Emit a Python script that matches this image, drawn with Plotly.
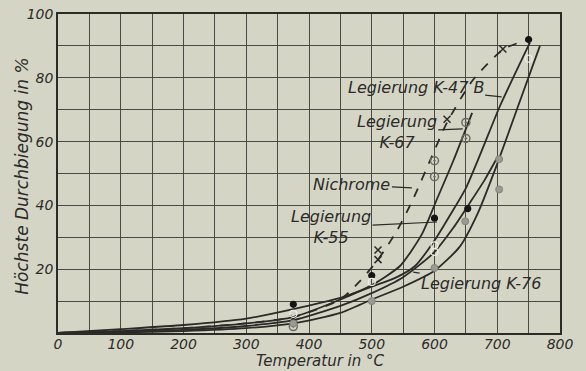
import plotly.graph_objects as go

# ---- data (Temperatur in °C, Durchbiegung in %) ----
# curves
nich_T = [0, 100, 200, 300, 375, 450, 480, 510, 540, 566, 595, 620, 660, 710, 750]
nich_v = [0, 0.6, 1.5, 3, 5, 10.5, 16, 23, 32, 42, 55, 66, 79, 89, 92]

k67_T = [0, 100, 200, 300, 375, 450, 500, 545, 580, 604, 630, 660]
k67_v = [0, 0.6, 1.5, 3, 5, 10.5, 15, 21, 31, 42, 54, 69]

k47_T = [0, 100, 200, 300, 375, 450, 500, 540, 569, 600, 625, 649, 675, 704, 752]
k47_v = [0, 1.2, 2.5, 4.5, 7.5, 11, 14.5, 17.5, 21, 29, 37, 45, 57, 71, 91]

k55_T = [0, 100, 200, 300, 375, 450, 500, 550, 598, 630, 657, 680, 700]
k55_v = [0, 0.4, 1, 2.2, 4, 8.5, 12.5, 17.5, 25, 33, 41, 48, 55]

k76_T = [0, 100, 200, 300, 375, 450, 500, 550, 600, 640, 670, 700, 733, 768]
k76_v = [0, 0.2, 0.6, 1.5, 3, 6.3, 10.5, 14.5, 19.5, 27, 38, 53, 71, 90]

# measured points
x_T = [375, 510, 510, 620, 709]
x_v = [4.5, 26, 23, 67, 89]
dotring_T = [375, 600, 600, 650, 650]
dotring_v = [2, 54, 49, 66, 61]
filled_T = [375, 500, 600, 653, 750]
filled_v = [9, 18, 36, 39, 92]
open_T = [375, 500, 600, 600, 750]
open_v = [6, 16, 27.5, 25.4, 86]
grey_T = [375, 500, 600, 649, 703, 703]
grey_v = [3, 10, 20.4, 35, 45, 54.5]

x_ticks = list(range(0, 801, 50))
x_labels = [str(t) if t % 100 == 0 else "" for t in x_ticks]
y_ticks = list(range(0, 101, 10))
y_labels = [str(t) if (t % 20 == 0 and t > 0) else "" for t in y_ticks]

INK = "#2b2b28"
PAPER = "#d5d5c6"
FONT = "DejaVu Sans"

fig = go.Figure()

def curve(T, v, dash="solid"):
    fig.add_trace(go.Scatter(x=T, y=v, mode="lines",
                             line=dict(color=INK, width=1.8, shape="spline", smoothing=0.6, dash=dash),
                             hoverinfo="skip", showlegend=False))

curve(nich_T, nich_v, dash="dash")
curve(k67_T, k67_v)
curve(k47_T, k47_v)
curve(k55_T, k55_v)
curve(k76_T, k76_v)

def pts(T, v, symbol, color, size, lw=1.2, lc=None):
    fig.add_trace(go.Scatter(x=T, y=v, mode="markers",
                             marker=dict(symbol=symbol, color=color, size=size,
                                         line=dict(color=lc or color, width=lw)),
                             hoverinfo="skip", showlegend=False))

pts(x_T, x_v, "x-thin-open", INK, 7, lw=1.5)
pts(dotring_T, dotring_v, "circle-open-dot", "#6a6a64", 8, lw=1.5)
pts(filled_T, filled_v, "circle", "#151515", 6)
pts(open_T, open_v, "circle-open", "#eeeee6", 7, lw=1.2, lc="#55554f")
pts(grey_T, grey_v, "circle", "#9a9a92", 7, lw=1, lc="#85857d")

lab_font = dict(family=FONT, size=16, color=INK, style="italic")
def label(text, x, y, ax, ay):
    fig.add_annotation(x=x, y=y, xref="x", yref="y", text=text, showarrow=True,
                       arrowhead=0, arrowwidth=1.2, arrowcolor=INK, ax=ax, ay=ay,
                       font=lab_font, align="center", bgcolor="rgba(0,0,0,0)")

label("Legierung K-47 B", 707, 74, -86, -9)
label("Legierung<br>K-67", 645, 64, -66, 3)
label("Nichrome", 564, 45.5, -60, -3)
label("Legierung<br>K-55", 604, 34.8, -106, 5)
label("Legierung K-76", 566, 19.1, 68, 11)

# axis titles placed as annotations for exact spacing
fig.add_annotation(text="Temperatur in °C", xref="paper", yref="paper", x=0.522, y=0,
                   yshift=-28, showarrow=False, yanchor="middle",
                   font=dict(family=FONT, size=15, color=INK, style="italic"))
fig.add_annotation(text="Höchste Durchbiegung in %", xref="paper", yref="paper", x=0, y=0.49,
                   xshift=-36, showarrow=False, textangle=-90, xanchor="center",
                   font=dict(family=FONT, size=17, color=INK, style="italic"))

fig.update_layout(
    width=586, height=371,
    margin=dict(l=58, r=26, t=14, b=38),
    paper_bgcolor=PAPER, plot_bgcolor=PAPER,
    font=dict(family=FONT, size=14, color=INK, style="italic"),
    xaxis=dict(range=[0, 800], tickvals=x_ticks, ticktext=x_labels, showgrid=True,
               gridcolor="#4a4a44", gridwidth=1, zeroline=False, showline=True,
               linecolor=INK, linewidth=1.5, mirror=True, ticks="", automargin=False,
               ticklabelstandoff=-3,
               ticklabeloverflow="allow", tickfont=dict(size=14, style="italic")),
    yaxis=dict(range=[0, 100], tickvals=y_ticks, ticktext=y_labels, showgrid=True,
               gridcolor="#4a4a44", gridwidth=1, zeroline=False, showline=True,
               linecolor=INK, linewidth=1.5, mirror=True, ticks="", automargin=False,
               ticklabeloverflow="allow", tickfont=dict(size=14, style="italic")),
)

# remove the page's default body margin so the figure fills the window exactly
fig.write_html("out.html", config={"displayModeBar": False},
               post_script="document.body.style.margin='0';")
